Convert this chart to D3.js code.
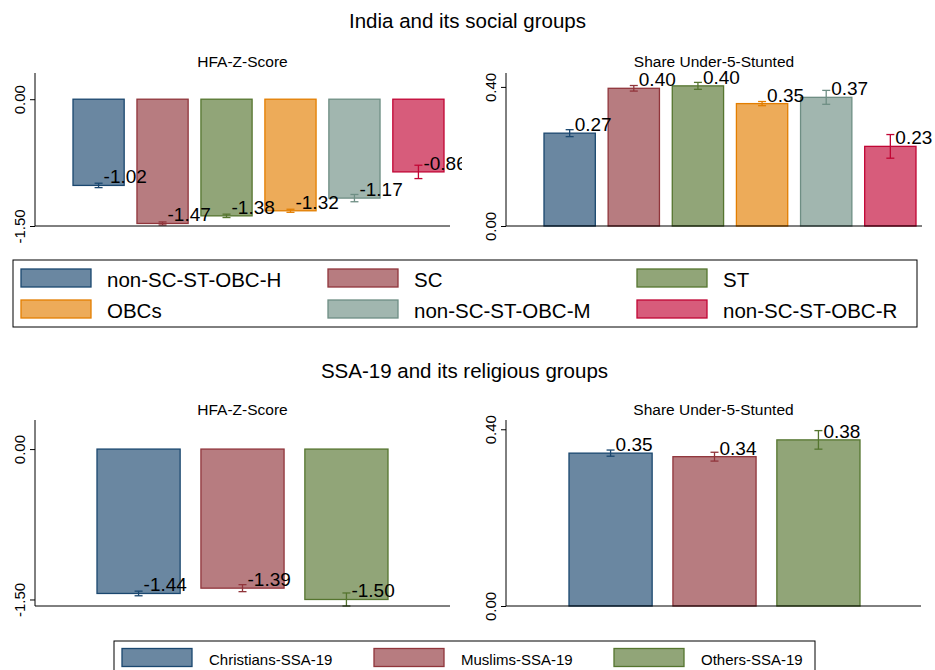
<!DOCTYPE html>
<html>
<head>
<meta charset="utf-8">
<script src="https://cdn.jsdelivr.net/npm/d3@7"></script>
<style>
  body { margin: 0; background: #fff; }
  svg { font-family: "Liberation Sans", Arial, Helvetica, sans-serif; }
</style>
</head>
<body>
<div id="root"></div>
<script>
// values
const indiaGroups = ['non-SC-ST-OBC-H', 'SC', 'ST', 'OBCs', 'non-SC-ST-OBC-M', 'non-SC-ST-OBC-R'];
const indiaHfa = [-1.02, -1.47, -1.38, -1.32, -1.17, -0.86];
const indiaHfaCi = [0.026, 0.018, 0.02, 0.018, 0.043, 0.079];
const indiaStunted = [0.267, 0.396, 0.403, 0.352, 0.370, 0.229];
const indiaStuntedCi = [0.01, 0.008, 0.01, 0.006, 0.02, 0.034];

const ssaGroups = ['Christians-SSA-19', 'Muslims-SSA-19', 'Others-SSA-19'];
const ssaHfa = [-1.44, -1.387, -1.50];
const ssaHfaCi = [0.023, 0.035, 0.065];
const ssaStunted = [0.346, 0.338, 0.376];
const ssaStuntedCi = [0.007, 0.01, 0.021];

const hfaTicks = [0, -1.5];
const stuntTicks = [0, 0.4];

const fills = ['#6a87a1', '#b77c80', '#91a578', '#edab59', '#a1b6af', '#d75c7b'];
const lines = ['#1a476f', '#90353b', '#55752f', '#e37e00', '#6e8e84', '#c10534'];

const width = 935, height = 670;

const svg = d3.select('#root').append('svg')
              .attr('width', width)
              .attr('height', height);
const defs = svg.append('defs');

const fmt = v => v.toFixed(2);
let panelNo = 0;

function panel(o) {
  const g = svg.append('g');
  const x = d3.scaleBand()
              .domain(o.groups)
              .range(o.barRange)
              .paddingInner(0.2)
              .paddingOuter(0);
  const y = d3.scaleLinear()
              .domain(o.domain)
              .range([o.bottom, o.top]);

  // labels spilling past the graph region get cut, like the original
  const clipId = 'clip' + (panelNo++);
  defs.append('clipPath').attr('id', clipId)
      .append('rect')
      .attr('x', o.left).attr('y', o.top - 30)
      .attr('width', o.right - o.left + 12)
      .attr('height', o.bottom - o.top + 60);

  g.append('text')
   .text(o.title)
   .attr('x', (o.left + o.right) / 2)
   .attr('y', o.titleY)
   .attr('text-anchor', 'middle')
   .style('font-size', '15.5px');

  // bars
  g.selectAll('rect.bar')
   .data(o.values).enter()
   .append('rect')
   .attr('class', 'bar')
   .attr('x', (d, i) => x(o.groups[i]))
   .attr('width', x.bandwidth())
   .attr('y', d => y(Math.max(0, d)))
   .attr('height', d => Math.abs(y(d) - y(0)))
   .attr('fill', (d, i) => fills[i])
   .attr('stroke', (d, i) => lines[i])
   .attr('stroke-width', 1.3);

  // error bars
  const eb = g.selectAll('g.err')
              .data(o.values).enter()
              .append('g')
              .attr('class', 'err')
              .attr('stroke', (d, i) => lines[i])
              .attr('stroke-width', 1.3)
              .attr('transform', (d, i) => `translate(${x(o.groups[i]) + x.bandwidth() / 2},0)`);
  eb.append('line')
    .attr('y1', (d, i) => y(d - o.ci[i]))
    .attr('y2', (d, i) => y(d + o.ci[i]));
  eb.append('line')
    .attr('x1', -4).attr('x2', 4)
    .attr('y1', (d, i) => y(d - o.ci[i]))
    .attr('y2', (d, i) => y(d - o.ci[i]));
  eb.append('line')
    .attr('x1', -4).attr('x2', 4)
    .attr('y1', (d, i) => y(d + o.ci[i]))
    .attr('y2', (d, i) => y(d + o.ci[i]));

  // value labels
  g.append('g')
   .attr('clip-path', `url(#${clipId})`)
   .selectAll('text.val')
   .data(o.values).enter()
   .append('text')
   .attr('class', 'val')
   .attr('x', (d, i) => x(o.groups[i]) + x.bandwidth() / 2 + 5)
   .attr('y', d => y(d) - 2)
   .text(d => fmt(d))
   .style('font-size', '19px');

  // axes
  const yAxis = g.append('g')
                 .attr('transform', `translate(${o.left},0)`)
                 .call(d3.axisLeft(y).tickValues(o.ticks).tickFormat(fmt).tickSize(5).tickSizeOuter(0));
  yAxis.select('.domain').remove();
  yAxis.selectAll('line').attr('stroke', '#000');
  yAxis.selectAll('text')
       .attr('transform', 'rotate(-90)')
       .attr('x', 0)
       .attr('y', -10)
       .attr('text-anchor', 'middle')
       .attr('dy', 0)
       .attr('fill', '#000')
       .style('font-size', '15px')
       .style('font-family', '"Liberation Sans", Arial, sans-serif');
  g.append('line')
   .attr('x1', o.left).attr('x2', o.left)
   .attr('y1', o.top).attr('y2', o.bottom)
   .attr('stroke', '#000');
  g.append('line')
   .attr('x1', o.left).attr('x2', o.right)
   .attr('y1', o.bottom).attr('y2', o.bottom)
   .attr('stroke', '#000');
}

function legend(o) {
  const g = svg.append('g');
  g.append('rect')
   .attr('x', o.box[0]).attr('y', o.box[1])
   .attr('width', o.box[2]).attr('height', o.box[3])
   .attr('fill', 'none')
   .attr('stroke', '#000')
   .attr('stroke-width', 1);
  const items = g.selectAll('g.item')
                 .data(o.groups).enter()
                 .append('g')
                 .attr('class', 'item')
                 .attr('transform', (d, i) => `translate(${o.cols[i % o.cols.length]},${o.rows[Math.floor(i / o.cols.length)]})`);
  items.append('rect')
       .attr('width', 70)
       .attr('height', 18)
       .attr('fill', (d, i) => fills[i])
       .attr('stroke', (d, i) => lines[i])
       .attr('stroke-width', 1.3);
  items.append('text')
       .attr('x', o.textDx)
       .attr('y', o.textDy)
       .text(d => d)
       .style('font-size', o.fontSize);
}

// titles
svg.append('text')
   .text('India and its social groups')
   .attr('x', width / 2)
   .attr('y', 28)
   .attr('text-anchor', 'middle')
   .style('font-size', '20.5px');
svg.append('text')
   .text('SSA-19 and its religious groups')
   .attr('x', width / 2 - 3)
   .attr('y', 378)
   .attr('text-anchor', 'middle')
   .style('font-size', '20.5px');

panel({ title: 'HFA-Z-Score', groups: indiaGroups, values: indiaHfa, ci: indiaHfaCi, ticks: hfaTicks,
        domain: [-1.5, 0.31], top: 73, bottom: 226, left: 35, right: 450, barRange: [73, 444], titleY: 66.5 });
panel({ title: 'Share Under-5-Stunted', groups: indiaGroups, values: indiaStunted, ci: indiaStuntedCi, ticks: stuntTicks,
        domain: [0, 0.44], top: 73, bottom: 226, left: 506, right: 922, barRange: [544, 916], titleY: 66.5 });
panel({ title: 'HFA-Z-Score', groups: ssaGroups, values: ssaHfa, ci: ssaHfaCi, ticks: hfaTicks,
        domain: [-1.565, 0.29], top: 420, bottom: 606, left: 35, right: 450, barRange: [97, 388], titleY: 415 });
panel({ title: 'Share Under-5-Stunted', groups: ssaGroups, values: ssaStunted, ci: ssaStuntedCi, ticks: stuntTicks,
        domain: [0, 0.421], top: 420, bottom: 606, left: 506, right: 921, barRange: [569, 860], titleY: 415 });

legend({ groups: indiaGroups, box: [13, 260, 904, 67], cols: [21, 328, 637], rows: [269, 300], textDx: 86, textDy: 18, fontSize: '20.5px' });
legend({ groups: ssaGroups, box: [114, 641, 701, 40], cols: [122, 374, 614], rows: [648.5], textDx: 87, textDy: 16.5, fontSize: '15px' });
</script>
</body>
</html>
